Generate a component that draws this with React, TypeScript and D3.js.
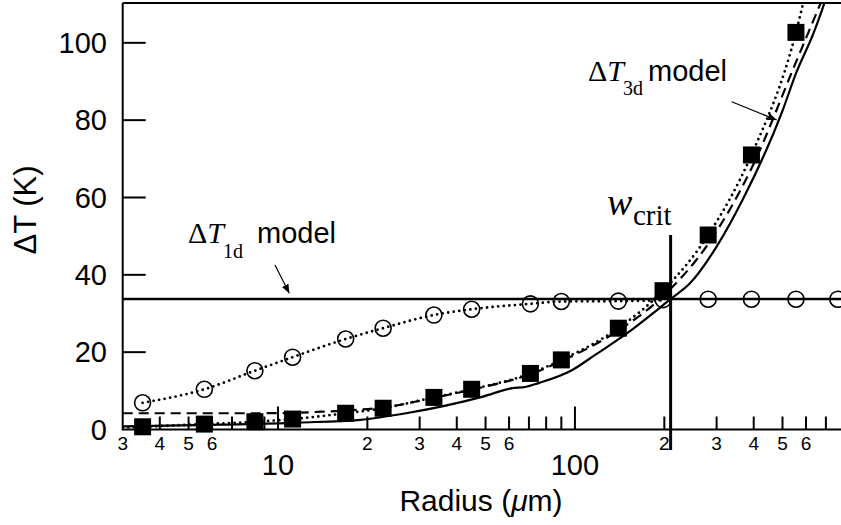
import React from 'react';
import * as d3 from 'd3';

// sample radii (µm) of the markers
const radius = [3.5, 5.65, 8.36, 11.2, 16.9, 22.6, 33.5, 44.9, 70.8, 90, 140, 198, 281, 393, 555, 768];
// open circles: 1d result
const dT1d = [6.9, 10.4, 15.2, 18.7, 23.4, 26.2, 29.6, 31.1, 32.5, 33.1, 33.2, 33.6, 33.7, 33.7, 33.7, 33.7];
// filled squares: 3d result
const dT3d = [0.7, 1.4, 2.0, 2.7, 4.2, 5.5, 8.3, 10.4, 14.5, 18.0, 26.2, 35.9, 50.3, 71.0, 102.7];

// dotted curve through the circles
const fit1dR = [3.5, 5.65, 8.36, 11.2, 16.9, 22.6, 33.5, 44.9, 70.8, 90, 140, 200];
const fit1dT = [6.9, 10.4, 15.2, 18.7, 23.4, 26.2, 29.6, 31.1, 32.5, 33.1, 33.2, 33.4];

// dotted curve through the squares
const fit3dR = [3, 3.5, 5.65, 8.36, 11.2, 16.9, 22.6, 33.5, 44.9, 70.8, 90, 140, 198, 281, 393, 555, 590];
const fit3dT = [0.5, 0.7, 1.4, 2.0, 2.7, 4.2, 5.5, 8.3, 10.4, 14.5, 18.0, 26.2, 35.9, 50.3, 71.0, 102.7, 111];

// dashed curve
const dashR = [3, 8, 11.2, 14, 16.9, 22.6, 33.5, 44.9, 70.8, 90, 140, 198, 281, 393, 555, 700];
const dashT = [4.2, 4.2, 4.3, 4.6, 4.9, 5.7, 8.2, 10.3, 14.3, 17.7, 25.6, 34.5, 48.0, 67.5, 95.0, 113.5];

// solid 3d model curve
const solidR = [3, 6, 11.8, 18.9, 27, 49, 61.6, 68, 75.4, 98, 117, 150, 189, 210, 244, 300, 367, 501, 555, 636, 690, 730];
const solidT = [0.8, 1.2, 1.8, 2.5, 4.2, 8.5, 10.7, 11.0, 12.0, 15.4, 19.3, 24.9, 30.9, 33.75, 37.8, 47.3, 59.4, 82.6, 92.1, 102.5, 110, 116];

const level1d = 33.75;
const wCrit = 210;

const yTicks = [0, 20, 40, 60, 80, 100];
const xMajor = [10, 100];
const xMinor = [4, 5, 6, 7, 8, 9, 20, 30, 40, 50, 60, 70, 80, 90, 200, 300, 400, 500, 600, 700];
const xMinorLabels = [3, 4, 5, 6, 20, 30, 40, 50, 60, 200, 300, 400, 500, 600];

const sans = 'Liberation Sans, Arial, Helvetica, sans-serif';
const serif = 'Liberation Serif, Times New Roman, serif';

const App = () => {
    const width = 841;
    const height = 525;
    const left = 122.7, right = 841, top = 3, bottom = 429.5;

    const x = d3.scaleLog().domain([3, 787]).range([left, right]);
    const y = d3.scaleLinear().domain([0, 110.3]).range([bottom, top]);

    const line = d3.line<[number, number]>()
        .x(d => x(d[0]))
        .y(d => y(d[1]))
        .curve(d3.curveMonotoneX);

    const zip = (a: number[], b: number[]) => a.map((v, i) => [v, b[i]] as [number, number]);

    const dotted = { stroke: '#000', strokeWidth: 2.8, fill: 'none', strokeDasharray: '0 5.6', strokeLinecap: 'round' as const };

    return (
        <svg width={width} height={height} style={{ position: 'absolute', left: 0, top: 0, background: '#fff' }}>
            <defs>
                <clipPath id="plot">
                    <rect x={left} y={top} width={right - left} height={bottom - top} />
                </clipPath>
                <marker id="head" viewBox="0 0 10 10" refX="10" refY="5" markerWidth="9" markerHeight="9" orient="auto" markerUnits="userSpaceOnUse">
                    <path d="M0,1 L10,5 L0,9 z" fill="#000" />
                </marker>
            </defs>

            <g clipPath="url(#plot)">
                <path d={line(zip(solidR, solidT)) || ''} stroke="#000" strokeWidth={2.2} fill="none" />
                <path d={line(zip(dashR, dashT)) || ''} stroke="#000" strokeWidth={2.2} fill="none" strokeDasharray="10 6" />
                <path d={line(zip(fit3dR, fit3dT)) || ''} {...dotted} />
                <path d={line(zip(fit1dR, fit1dT)) || ''} {...dotted} />
                <line x1={left} x2={right} y1={y(level1d)} y2={y(level1d)} stroke="#000" strokeWidth={2.5} />
            </g>

            {/* axes */}
            <line x1={left} x2={left} y1={top} y2={bottom + 1} stroke="#000" strokeWidth={2} />
            <line x1={left} x2={right} y1={bottom} y2={bottom} stroke="#000" strokeWidth={2} />
            <line x1={left} x2={right} y1={top} y2={top} stroke="#000" strokeWidth={2} />

            {yTicks.map(t => (
                <g key={'y' + t}>
                    {t > 0 && <line x1={left} x2={left + 23} y1={y(t)} y2={y(t)} stroke="#000" strokeWidth={2} />}
                    <text x={107} y={y(t)} dy="0.35em" textAnchor="end" fontFamily={sans} fontSize={29}>{t}</text>
                </g>
            ))}
            {xMinor.map(t => (
                <line key={'m' + t} x1={x(t)} x2={x(t)} y1={bottom} y2={bottom - 13} stroke="#000" strokeWidth={2} />
            ))}
            {xMajor.map(t => (
                <g key={'M' + t}>
                    <line x1={x(t)} x2={x(t)} y1={bottom} y2={bottom - 23} stroke="#000" strokeWidth={2} />
                    <text x={x(t)} y={475} textAnchor="middle" fontFamily={sans} fontSize={29}>{t}</text>
                </g>
            ))}
            {xMinorLabels.map(t => (
                <text key={'l' + t} x={x(t)} y={450} textAnchor="middle" fontFamily={sans} fontSize={19}>
                    {String(t)[0]}
                </text>
            ))}

            {/* critical width */}
            <line x1={x(wCrit)} x2={x(wCrit)} y1={y(50.3)} y2={450} stroke="#000" strokeWidth={3} />

            {/* markers */}
            {radius.map((r, i) => (
                <circle key={'c' + i} cx={x(r)} cy={y(dT1d[i])} r={8} fill="none" stroke="#000" strokeWidth={1.6} />
            ))}
            {dT3d.map((v, i) => (
                <rect key={'s' + i} x={x(radius[i]) - 8.5} y={y(v) - 8.5} width={17} height={17} fill="#000" />
            ))}

            {/* annotations */}
            <text x={188} y={243} fontFamily={serif} fontSize={30}>Δ<tspan fontStyle="italic">T</tspan></text>
            <text x={223} y={258} fontFamily={serif} fontSize={20}>1d</text>
            <text x={257} y={243} fontFamily={sans} fontSize={29}>model</text>
            <line x1={275} y1={265} x2={289.3} y2={293.3} stroke="#000" strokeWidth={1.2} markerEnd="url(#head)" />

            <text x={588} y={81} fontFamily={serif} fontSize={30}>Δ<tspan fontStyle="italic">T</tspan></text>
            <text x={623} y={95} fontFamily={serif} fontSize={20}>3d</text>
            <text x={648} y={81} fontFamily={sans} fontSize={29}>model</text>
            <line x1={731.7} y1={101.7} x2={776.7} y2={120} stroke="#000" strokeWidth={1.2} markerEnd="url(#head)" />

            <text x={607} y={215} fontFamily={serif} fontSize={38} fontStyle="italic">w</text>
            <text x={633} y={225} fontFamily={serif} fontSize={29}>crit</text>

            {/* axis titles */}
            <text transform="translate(36,210) rotate(-90)" textAnchor="middle" fontFamily={sans} fontSize={31}>ΔT (K)</text>
            <text x={481} y={511} textAnchor="middle" fontFamily={sans} fontSize={30}>
                Radius (<tspan fontStyle="italic">μ</tspan>m)
            </text>
        </svg>
    );
};

export default App;
